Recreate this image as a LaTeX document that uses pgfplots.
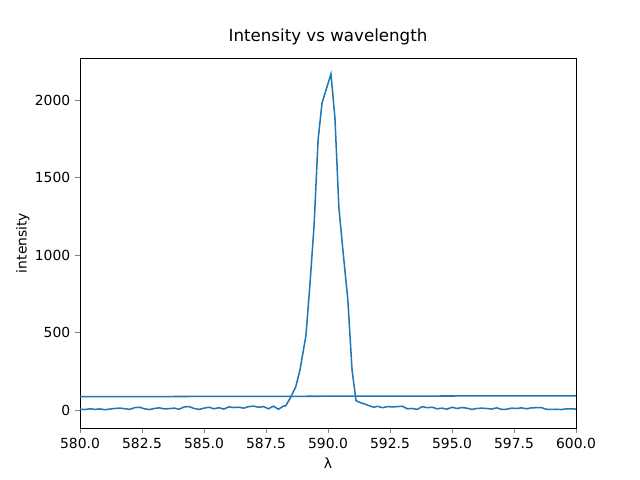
\documentclass[border=0pt]{standalone}
\usepackage{pgfplots}
\pgfplotsset{compat=1.18}
\usepackage{fontspec}
\setmainfont{DejaVu Sans}
\definecolor{mplblue}{HTML}{1F77B4}
\begin{document}
\begin{tikzpicture}
\begin{axis}[
  at={(0,0)}, anchor=south west,
  scale only axis, width=357.12pt, height=266.4pt,
  xmin=580, xmax=600, ymin=-116, ymax=2271,
  xtick={580,582.5,585,587.5,590,592.5,595,597.5,600},
  ytick={0,500,1000,1500,2000},
  xticklabel style={/pgf/number format/.cd,fixed,fixed zerofill,precision=1},
  /pgf/number format/assume math mode=true,
  yticklabel style={/pgf/number format/.cd,fixed,1000 sep={}},
  tick label style={font=\fontsize{10}{12}\selectfont},
  label style={font=\fontsize{10}{12}\selectfont},
  ylabel style={yshift=-3pt},
  xlabel={λ}, ylabel={intensity},
  title={Intensity vs wavelength},
  title style={font=\fontsize{12}{14}\selectfont},
  tick align=outside, xtick pos=bottom, ytick pos=left,
  major tick length=3.5pt,
  axis line style={line width=0.6pt},
]
\addplot[mplblue, line width=1.1pt] coordinates {
(580.0,5)(580.2,3)(580.4,8)(580.6,4)(580.8,7)(581.0,2)(581.2,6)(581.4,10)(581.6,12)(581.8,9)
(582.0,4)(582.2,15)(582.4,18)(582.6,8)(582.8,3)(583.0,10)(583.2,14)(583.4,7)(583.6,9)(583.8,12)
(584.0,5)(584.2,20)(584.4,22)(584.6,10)(584.8,4)(585.0,12)(585.2,18)(585.4,8)(585.6,15)(585.8,6)
(586.0,20)(586.2,16)(586.4,18)(586.6,12)(586.8,22)(587.0,25)(587.2,18)(587.4,22)(587.6,8)(587.8,25)
(588.0,5)(588.2,25)(588.3,28)(588.5,84)(588.7,150)(588.87,258)(589.11,480)(589.27,806)(589.44,1194)
(589.6,1742)(589.76,1981)(590.12,2168)(590.28,1884)(590.44,1303)(590.62,1000)(590.8,710)(590.97,258)
(591.13,60)(591.3,48)(591.5,38)(591.7,25)(591.85,18)(592.0,24)(592.2,15)(592.4,22)(592.6,20)
(592.8,22)(593.0,24)(593.2,8)(593.4,10)(593.6,4)(593.8,22)(594.0,15)(594.2,18)(594.4,8)(594.6,12)
(594.8,5)(595.0,18)(595.2,10)(595.4,16)(595.6,12)(595.8,4)(596.0,10)(596.2,12)(596.4,10)(596.6,6)
(596.8,14)(597.0,4)(597.2,5)(597.4,12)(597.6,10)(597.8,14)(598.0,8)(598.2,14)(598.4,15)(598.6,16)
(598.8,5)(599.0,4)(599.2,5)(599.4,3)(599.6,7)(599.8,8)(600.0,6)
};
\addplot[mplblue, line width=1.1pt] coordinates {(580,86)(600,92)};
\end{axis}
\path (-57.6pt,-37.44pt) rectangle (403.2pt,308.16pt);
\end{tikzpicture}
\end{document}
